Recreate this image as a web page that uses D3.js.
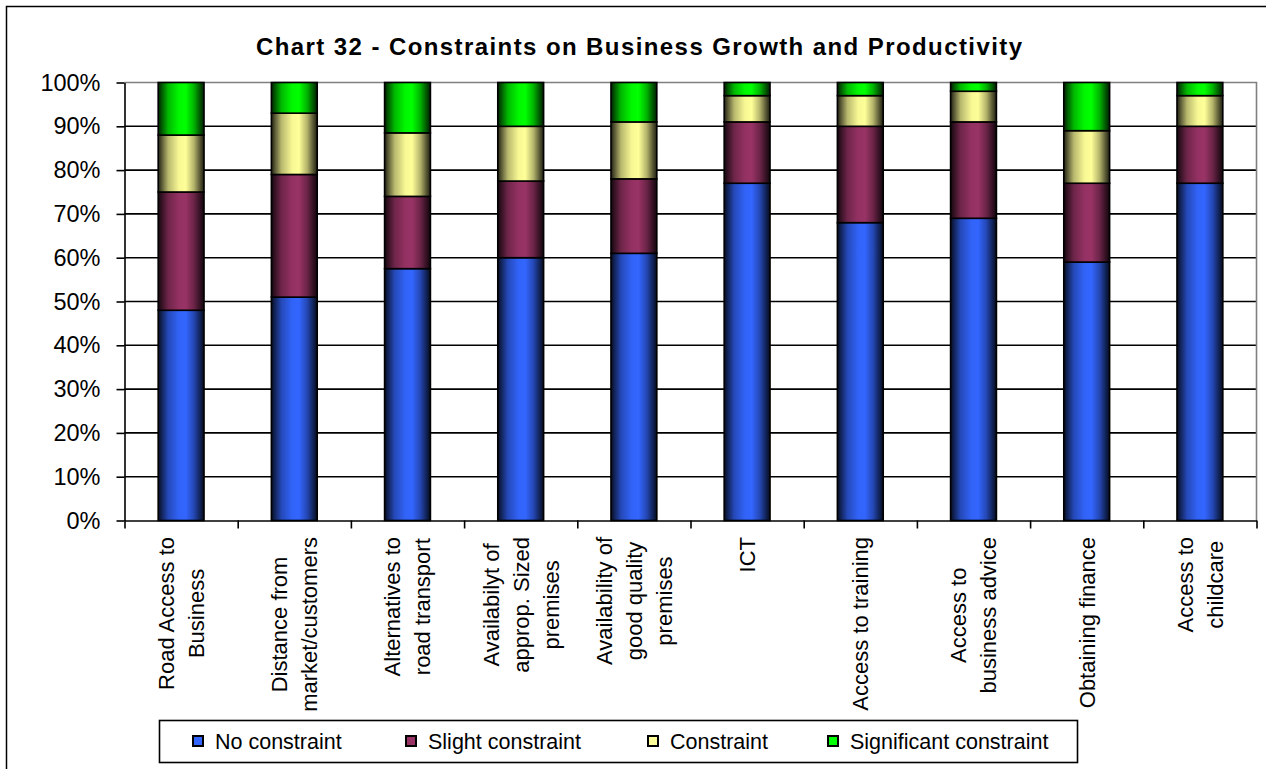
<!DOCTYPE html>
<html>
<head>
<meta charset="utf-8">
<script src="https://cdn.jsdelivr.net/npm/d3@7"></script>
<style>
  html, body { margin: 0; padding: 0; background: #fff; }
  svg { display: block; font-family: "Liberation Sans", Arial, sans-serif; }
</style>
</head>
<body>
<svg id="chart" width="1266" height="769"></svg>
<script>
// Categories (each entry split into the lines shown under the axis)
const categories = [
  ["Road Access to", "Business"],
  ["Distance from", "market/customers"],
  ["Alternatives to", "road transport"],
  ["Availabilyt of", "approp. Sized", "premises"],
  ["Availability of", "good quality", "premises"],
  ["ICT"],
  ["Access to training"],
  ["Access to", "business advice"],
  ["Obtaining finance"],
  ["Access to", "childcare"]
];

// Share of responses (%) per constraint level
const noConstraint      = [48, 51, 57.5, 60,   61, 77, 68, 69, 59, 77];
const slightConstraint  = [27, 28, 16.5, 17.5, 17, 14, 22, 22, 18, 13];
const constraint        = [13, 14, 14.5, 12.5, 13,  6,  7,  7, 12,  7];
const significant       = [12,  7, 11.5, 10,    9,  3,  3,  2, 11,  3];

const seriesNames = ["No constraint", "Slight constraint", "Constraint", "Significant constraint"];
const seriesColors = ["#3366FF", "#993366", "#FFFF99", "#00FF00"];
const yTicks = [0, 10, 20, 30, 40, 50, 60, 70, 80, 90, 100];

const title = "Chart 32 - Constraints on Business Growth and Productivity";

// Table built for d3.stack
const keys = ["no", "slight", "constraint", "significant"];
const table = categories.map((c, i) => ({
  idx: i,
  no: noConstraint[i],
  slight: slightConstraint[i],
  constraint: constraint[i],
  significant: significant[i]
}));

const svg = d3.select("#chart");
const W = 1266, H = 769;
const plot = { left: 124.5, right: 1256.5, top: 82.5, bottom: 520.5 };

// Outer chart border
svg.append("rect")
  .attr("x", 6.5).attr("y", 6.5)
  .attr("width", W + 20).attr("height", H + 20)
  .attr("fill", "#fff").attr("stroke", "#000").attr("stroke-width", 1.5);

// Gradients: dark edges, bright toward the middle
const defs = svg.append("defs");
seriesColors.forEach((col, i) => {
  const c = d3.rgb(col);
  const shade = k => d3.rgb(c.r * k, c.g * k, c.b * k).formatHex();
  const g = defs.append("linearGradient")
    .attr("id", "grad" + i)
    .attr("x1", "0%").attr("x2", "100%").attr("y1", "0%").attr("y2", "0%");
  [[0, 0.12], [0.08, 0.35], [0.22, 0.72], [0.45, 0.97], [0.6, 1.0], [0.78, 0.7], [0.92, 0.32], [1, 0.12]]
    .forEach(([o, k]) => g.append("stop").attr("offset", o).attr("stop-color", shade(k)));
});

const x = d3.scaleBand()
  .domain(d3.range(categories.length))
  .range([plot.left, plot.right])
  .paddingInner(0.595).paddingOuter(0.2975);

const xBoundary = d3.scaleLinear()
  .domain([0, categories.length])
  .range([plot.left, plot.right]);

const y = d3.scaleLinear().domain([0, 100]).range([plot.bottom, plot.top]);

// Gridlines
svg.append("g")
  .selectAll("line")
  .data(yTicks.filter(t => t > 0 && t < 100))
  .join("line")
  .attr("x1", plot.left).attr("x2", plot.right)
  .attr("y1", d => y(d)).attr("y2", d => y(d))
  .attr("stroke", "#000").attr("stroke-width", 1.6);

// Plot area frame (top and right edges)
svg.append("path")
  .attr("d", `M${plot.left},${plot.top}H${plot.right}V${plot.bottom}`)
  .attr("fill", "none").attr("stroke", "#808080").attr("stroke-width", 1.6);

// Stacked bars
const stacked = d3.stack().keys(keys)(table);
svg.append("g")
  .selectAll("g")
  .data(stacked)
  .join("g")
  .attr("fill", (d, i) => `url(#grad${i})`)
  .selectAll("rect")
  .data(d => d)
  .join("rect")
  .attr("x", d => x(d.data.idx))
  .attr("width", x.bandwidth())
  .attr("y", d => y(d[1]))
  .attr("height", d => y(d[0]) - y(d[1]))
  .attr("stroke", "#000").attr("stroke-width", 1.6);

// Y axis
const yAxis = d3.axisLeft(y)
  .tickValues(yTicks)
  .tickFormat(d => d + "%")
  .tickSizeOuter(0)
  .tickSizeInner(8)
  .tickPadding(16);
const gy = svg.append("g").attr("transform", `translate(${plot.left},0)`).call(yAxis);
gy.select(".domain").attr("stroke", "#000").attr("stroke-width", 1.6);
gy.selectAll(".tick line").attr("stroke", "#000").attr("stroke-width", 1.6);
gy.selectAll(".tick text")
  .attr("font-size", 23.5).attr("font-family", "Liberation Sans, Arial, sans-serif")
  .attr("fill", "#000");

// X axis with ticks at category boundaries
const xAxis = d3.axisBottom(xBoundary)
  .tickValues(d3.range(categories.length + 1))
  .tickFormat("")
  .tickSizeInner(8)
  .tickSizeOuter(0);
const gx = svg.append("g").attr("transform", `translate(0,${plot.bottom})`).call(xAxis);
gx.select(".domain").attr("stroke", "#000").attr("stroke-width", 1.6);
gx.selectAll(".tick line").attr("stroke", "#000").attr("stroke-width", 1.6);

// Rotated category labels, lines centred on each other, block top-aligned
const labelTop = 537;
const lineGap = 30;
const labelFont = 22;
const lg = svg.append("g");
categories.forEach((lines, i) => {
  const cx = x(i) + x.bandwidth() / 2;
  const g = lg.append("g");
  const texts = lines.map((ln, j) => g.append("text")
    .attr("font-size", labelFont)
    .attr("text-anchor", "middle")
    .attr("fill", "#000")
    .text(ln));
  const maxLen = d3.max(texts, t => t.node().getComputedTextLength());
  const midY = labelTop + maxLen / 2;
  const n = lines.length;
  texts.forEach((t, j) => {
    const lx = cx + (j - (n - 1) / 2) * lineGap + labelFont * 0.36;
    t.attr("transform", `translate(${lx},${midY}) rotate(-90)`);
  });
});

// Title
svg.append("text")
  .attr("x", 639).attr("y", 55)
  .attr("text-anchor", "middle")
  .attr("font-size", 24).attr("font-weight", "bold")
  .attr("textLength", 766).attr("lengthAdjust", "spacing")
  .attr("fill", "#000")
  .text(title);

// Legend
const legend = svg.append("g");
legend.append("rect")
  .attr("x", 159.5).attr("y", 720.5)
  .attr("width", 918).attr("height", 42)
  .attr("fill", "#fff").attr("stroke", "#000").attr("stroke-width", 1.6);
const legendX = [193, 406, 648, 828];
seriesNames.forEach((name, i) => {
  legend.append("rect")
    .attr("x", legendX[i]).attr("y", 736)
    .attr("width", 10).attr("height", 10)
    .attr("fill", seriesColors[i])
    .attr("stroke", "#000").attr("stroke-width", 2);
  legend.append("text")
    .attr("x", legendX[i] + 22).attr("y", 749)
    .attr("font-size", 21.5).attr("fill", "#000")
    .text(name);
});
</script>
</body>
</html>
